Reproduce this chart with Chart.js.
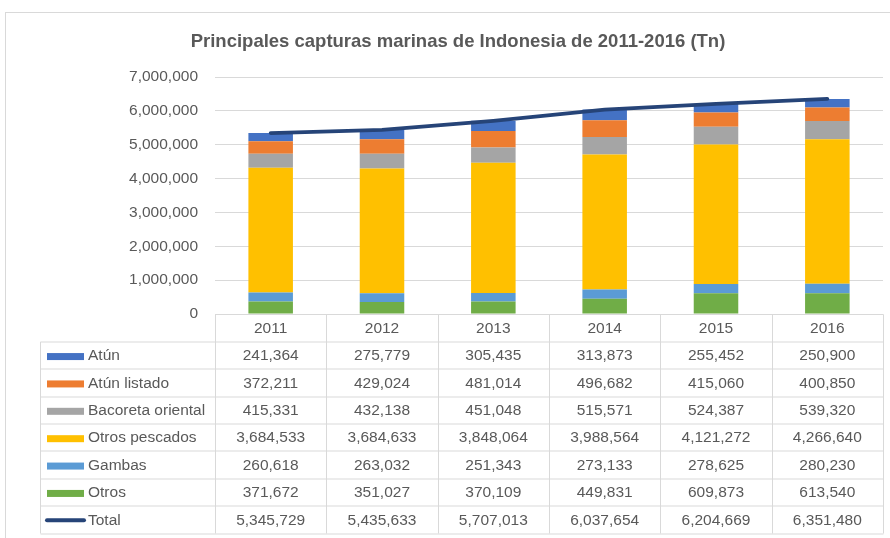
<!DOCTYPE html>
<html>
<head>
<meta charset="utf-8">
<script src="https://cdn.jsdelivr.net/npm/chart.js@4/dist/chart.umd.min.js"></script>
<style>
  html, body { margin: 0; padding: 0; background: #ffffff; }
  canvas { display: block; }
</style>
</head>
<body>
<canvas id="c" width="890" height="538"></canvas>
<script>
const categories = ['2011', '2012', '2013', '2014', '2015', '2016'];
const atun = [241364, 275779, 305435, 313873, 255452, 250900];
const atunListado = [372211, 429024, 481014, 496682, 415060, 400850];
const bacoreta = [415331, 432138, 451048, 515571, 524387, 539320];
const otrosPescados = [3684533, 3684633, 3848064, 3988564, 4121272, 4266640];
const gambas = [260618, 263032, 251343, 273133, 278625, 280230];
const otros = [371672, 351027, 370109, 449831, 609873, 613540];
const total = [5345729, 5435633, 5707013, 6037654, 6204669, 6351480];
const yTicks = [0, 1000000, 2000000, 3000000, 4000000, 5000000, 6000000, 7000000];
const titleText = 'Principales capturas marinas de Indonesia de 2011-2016 (Tn)';

const FONT = "'Liberation Sans', Arial, sans-serif";
const TEXT = '#595959';
const GRID = '#D9D9D9';

const fmt = v => v.toLocaleString('en-US');

// Table rows in display order (top to bottom)
const tableRows = [
  { label: 'Atún', data: atun, color: '#4472C4', kind: 'bar' },
  { label: 'Atún listado', data: atunListado, color: '#ED7D31', kind: 'bar' },
  { label: 'Bacoreta oriental', data: bacoreta, color: '#A5A5A5', kind: 'bar' },
  { label: 'Otros pescados', data: otrosPescados, color: '#FFC000', kind: 'bar' },
  { label: 'Gambas', data: gambas, color: '#5B9BD5', kind: 'bar' },
  { label: 'Otros', data: otros, color: '#70AD47', kind: 'bar' },
  { label: 'Total', data: total, color: '#264478', kind: 'line' }
];

const frameAndTable = {
  id: 'frameAndTable',
  beforeDraw(chart) {
    const ctx = chart.ctx;
    ctx.save();
    ctx.strokeStyle = GRID;
    ctx.lineWidth = 1;
    ctx.strokeRect(5.5, 12.5, 1000, 1000);
    // title
    ctx.fillStyle = TEXT;
    ctx.font = 'bold 18.5px ' + FONT;
    ctx.textAlign = 'center';
    ctx.textBaseline = 'middle';
    ctx.fillText(titleText, 458, 42);
    ctx.restore();
  },
  afterDraw(chart) {
    const { ctx, chartArea, scales } = chart;
    const x = scales.x;
    const n = categories.length;
    const colW = x.getPixelForValue(1) - x.getPixelForValue(0);
    const left = Math.round(x.getPixelForValue(0) - colW / 2) + 0.5;
    const right = Math.round(x.getPixelForValue(n - 1) + colW / 2) + 0.5;
    const top = Math.round(chartArea.bottom) + 0.5;
    const nRows = tableRows.length + 1;
    const rowH = 27.375;
    const legendLeft = 40.5;
    const bottom = top + nRows * rowH;

    ctx.save();
    ctx.strokeStyle = GRID;
    ctx.lineWidth = 1;
    ctx.beginPath();
    ctx.moveTo(left, top); ctx.lineTo(right, top);
    for (let r = 1; r <= nRows; r++) {
      const yy = Math.round(top + r * rowH);
      ctx.moveTo(legendLeft, yy); ctx.lineTo(right, yy);
    }
    for (let i = 0; i <= n; i++) {
      const xx = Math.round(x.getPixelForValue(0) - colW / 2 + i * colW) + 0.5;
      ctx.moveTo(xx, top); ctx.lineTo(xx, bottom);
    }
    ctx.moveTo(legendLeft, top + rowH); ctx.lineTo(legendLeft, bottom);
    ctx.stroke();

    ctx.fillStyle = TEXT;
    ctx.font = '15.5px ' + FONT;
    ctx.textBaseline = 'middle';
    ctx.textAlign = 'center';
    categories.forEach((c, i) => {
      ctx.fillText(c, x.getPixelForValue(i), top + rowH / 2 + 1);
    });
    tableRows.forEach((row, r) => {
      const cy = top + (r + 1.5) * rowH + 0.5;
      if (row.kind === 'bar') {
        ctx.fillStyle = row.color;
        ctx.fillRect(47, cy - 3, 37, 7);
      } else {
        ctx.strokeStyle = row.color;
        ctx.lineWidth = 4;
        ctx.lineCap = 'round';
        ctx.beginPath();
        ctx.moveTo(47, cy); ctx.lineTo(84, cy);
        ctx.stroke();
      }
      ctx.fillStyle = TEXT;
      ctx.textAlign = 'left';
      ctx.fillText(row.label, 88, cy);
      ctx.textAlign = 'center';
      row.data.forEach((v, i) => {
        ctx.fillText(fmt(v), x.getPixelForValue(i), cy);
      });
    });
    ctx.restore();
  }
};

const barDs = (label, data, color) => ({
  type: 'bar', label, data, backgroundColor: color, borderWidth: 0,
  stack: 'bars', barPercentage: 0.4, categoryPercentage: 1.0, order: 2
});

new Chart(document.getElementById('c'), {
  data: {
    labels: categories,
    datasets: [
      { type: 'line', label: 'Total', data: total, borderColor: '#264478',
        backgroundColor: '#264478', borderWidth: 3.75, pointRadius: 0, tension: 0,
        stack: 'line', order: 1, borderCapStyle: 'round' },
      barDs('Otros', otros, '#70AD47'),
      barDs('Gambas', gambas, '#5B9BD5'),
      barDs('Otros pescados', otrosPescados, '#FFC000'),
      barDs('Bacoreta oriental', bacoreta, '#A5A5A5'),
      barDs('Atún listado', atunListado, '#ED7D31'),
      barDs('Atún', atun, '#4472C4')
    ]
  },
  options: {
    responsive: false,
    devicePixelRatio: 1,
    animation: false,
    layout: { padding: { left: 0, right: 7, top: 77, bottom: 224 } },
    plugins: {
      legend: { display: false },
      tooltip: { enabled: false },
      title: { display: false }
    },
    scales: {
      x: {
        display: false,
        stacked: true,
        offset: true
      },
      y: {
        stacked: true,
        min: 0,
        max: 7000000,
        afterBuildTicks: s => { s.ticks = yTicks.map(v => ({ value: v })); },
        afterFit: s => { s.width = 215; },
        border: { display: false },
        grid: { color: GRID, drawTicks: false, lineWidth: 1 },
        ticks: {
          color: TEXT,
          font: { family: FONT, size: 15.5 },
          padding: 17,
          callback: v => fmt(v)
        }
      }
    }
  },
  plugins: [frameAndTable]
});
</script>
</body>
</html>
